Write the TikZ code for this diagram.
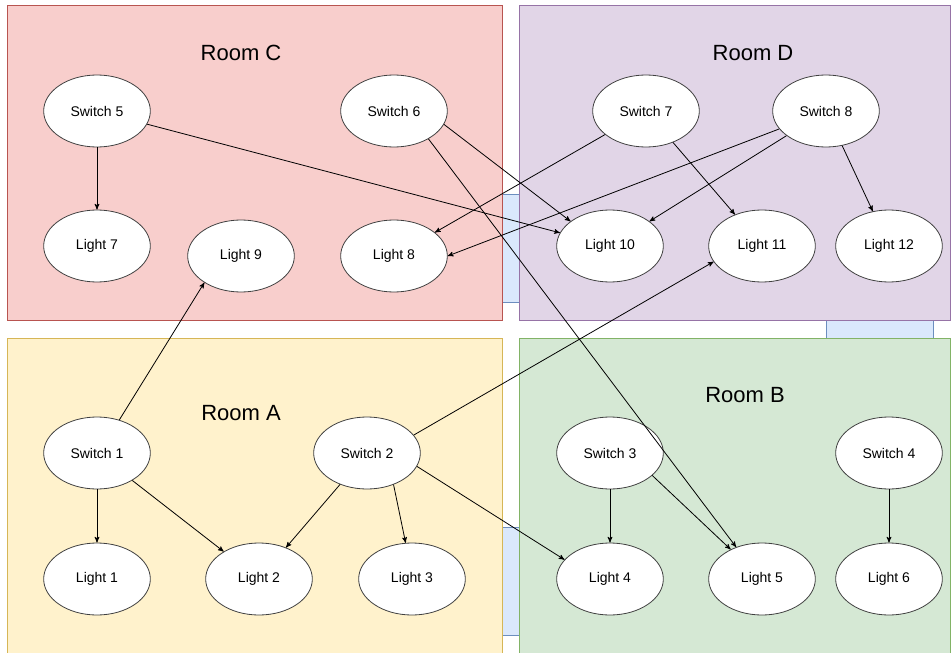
\documentclass[tikz,border=0pt]{standalone}
\usepackage{fontspec}
\setmainfont{Liberation Sans}
\usetikzlibrary{shapes.geometric}
\usetikzlibrary{arrows}

\begin{document}
\begin{tikzpicture}[x=0.75pt,y=-0.75pt,->,>=stealth',shorten >=0pt,
	line width=0.6pt,main node/.style={ellipse,draw=black!75,fill=white,
	minimum width=80pt,minimum height=54pt,inner sep=0pt,
	font=\fontsize{10.5}{12}\selectfont},
	room/.style={-,line width=0.7pt},
	door/.style={-,draw=doorline,fill=doorfill,line width=0.7pt},
	room label/.style={font=\fontsize{16.5}{19}\selectfont}]
	
	\definecolor{roomC}{HTML}{F8CECC}
	\definecolor{roomCline}{HTML}{B85450}
	\definecolor{roomD}{HTML}{E1D5E7}
	\definecolor{roomDline}{HTML}{9673A6}
	\definecolor{roomA}{HTML}{FFF2CC}
	\definecolor{roomAline}{HTML}{D6B656}
	\definecolor{roomB}{HTML}{D5E8D4}
	\definecolor{roomBline}{HTML}{82B366}
	\definecolor{doorfill}{HTML}{DAE8FC}
	\definecolor{doorline}{HTML}{6C8EBF}
	
	\clip (0,0) rectangle (951,653);
	
	% doors
	\filldraw[door] (502,194) rectangle (519,302);
	\filldraw[door] (826,320) rectangle (933,338);
	\filldraw[door] (502,527) rectangle (519,635);
	
	% rooms
	\filldraw[room, fill=roomC, draw=roomCline] (7,5) rectangle (502,320);
	\filldraw[room, fill=roomD, draw=roomDline] (519,5) rectangle (950,320);
	\filldraw[room, fill=roomA, draw=roomAline] (7,338) rectangle (502,670);
	\filldraw[room, fill=roomB, draw=roomBline] (519,338) rectangle (950,670);
	
	\node[room label] (rc) at (241,53) {Room C};
	\node[room label] (rd) at (753,53) {Room D};
	\node[room label] (ra) at (241,413) {Room A};
	\node[room label] (rb) at (745,395) {Room B};
	
	% room C
	\node[main node] (s5) at (97,111) {Switch 5};
	\node[main node] (s6) at (394,111) {Switch 6};
	\node[main node] (l7) at (97,246) {Light 7};
	\node[main node] (l9) at (241,256) {Light 9};
	\node[main node] (l8) at (394,256) {Light 8};
	% room D
	\node[main node] (s7) at (646,111) {Switch 7};
	\node[main node] (s8) at (826,111) {Switch 8};
	\node[main node] (l10) at (610,246) {Light 10};
	\node[main node] (l11) at (762,246) {Light 11};
	\node[main node] (l12) at (889,246) {Light 12};
	% room A
	\node[main node] (s1) at (97,453) {Switch 1};
	\node[main node] (s2) at (367,453) {Switch 2};
	\node[main node] (l1) at (97,579) {Light 1};
	\node[main node] (l2) at (259,579) {Light 2};
	\node[main node] (l3) at (412,579) {Light 3};
	% room B
	\node[main node] (s3) at (610,453) {Switch 3};
	\node[main node] (s4) at (889,453) {Switch 4};
	\node[main node] (l4) at (610,579) {Light 4};
	\node[main node] (l5) at (762,579) {Light 5};
	\node[main node] (l6) at (889,579) {Light 6};
	
	\path
	(s5) edge (l7)
	(s5) edge (l10)
	(s6.345) edge (l10.148)
	(s6.321) edge (l5.129)
	(s7) edge (l8)
	(s7) edge (l11)
	(s8) edge (l8.east)
	(s8) edge (l10)
	(s8) edge (l12)
	(s1.56) edge (l9.216)
	(s1) edge (l1)
	(s1) edge (l2)
	(s2.21) edge (l11.198)
	(s2) edge (l2)
	(s2.310) edge (l3.100)
	(s2.345) edge (l4.157)
	(s3) edge (l4)
	(s3.332) edge (l5)
	(s4) edge (l6);
\end{tikzpicture}
\end{document}
